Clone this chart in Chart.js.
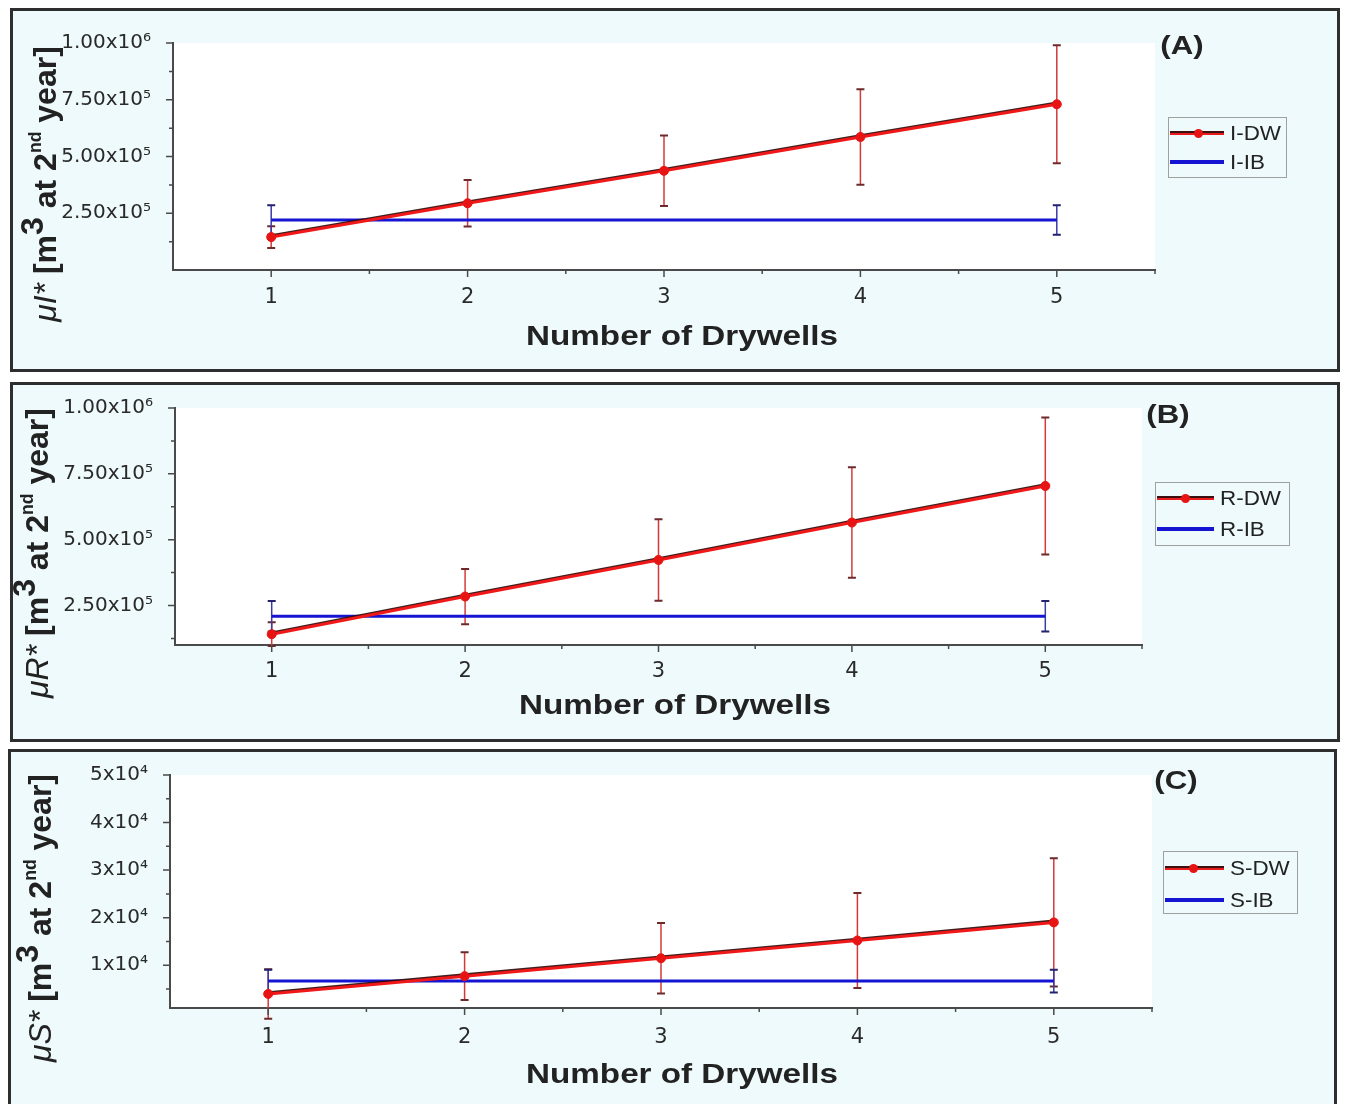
<!DOCTYPE html>
<html><head><meta charset="utf-8">
<script src="https://cdn.jsdelivr.net/npm/chart.js@4.4.1/dist/chart.umd.min.js"></script>
<style>
html,body{margin:0;padding:0;background:#fff;}
body{width:1347px;height:1104px;position:relative;overflow:hidden;font-family:"Liberation Sans",Arial,sans-serif;color:#222;}
.panel{position:absolute;box-sizing:border-box;border:3px solid #2e2e2e;background:#eefafb;}
canvas{position:absolute;left:0;}
.ytitle{position:absolute;white-space:nowrap;transform:translate(-50%,-50%) rotate(-90deg);font-size:32px;line-height:1.15;}
.ytitle .it{font-style:italic;font-weight:normal;}
.ytitle b{font-weight:bold;}
.ytitle .r3{position:relative;top:-0.42em;}
.ytitle .sup{font-size:0.55em;position:relative;top:-0.85em;}
.xtitle{position:absolute;white-space:nowrap;font-weight:bold;font-size:27px;transform:translate(-50%,-50%) scaleX(1.23);}
.plabel{position:absolute;white-space:nowrap;font-weight:bold;font-size:26px;transform:translate(-50%,-50%) scaleX(1.2);}
.legend{position:absolute;box-sizing:border-box;border:1px solid #a0a0a0;}
.lline{position:absolute;height:4px;margin-top:-2px;}
.ldot{position:absolute;width:9px;height:9px;border-radius:50%;background:#e81414;margin:-4.5px 0 0 -4.5px;}
.ltext{position:absolute;white-space:nowrap;font-size:20px;line-height:1;transform:translateY(-50%) scaleX(1.12);transform-origin:left center;}
</style>
</head>
<body>
<div class="panel" style="left:10px;top:8px;width:1330px;height:364px;"></div>
<div class="panel" style="left:10px;top:382px;width:1330px;height:360px;"></div>
<div class="panel" style="left:8px;top:749px;width:1329px;height:365px;"></div>

<canvas id="cA" width="1347" height="364" style="top:8px;"></canvas>
<canvas id="cB" width="1347" height="360" style="top:382px;"></canvas>
<canvas id="cC" width="1347" height="355" style="top:749px;"></canvas>

<div class="ytitle" style="left:45px;top:184px;"><span class="it">&mu;I*</span> <b>[m<span class="r3">3</span> at 2<span class="sup">nd</span> year]</b></div>
<div class="ytitle" style="left:37px;top:553px;"><span class="it">&mu;R*</span> <b>[m<span class="r3">3</span> at 2<span class="sup">nd</span> year]</b></div>
<div class="ytitle" style="left:40px;top:918px;"><span class="it">&mu;S*</span> <b>[m<span class="r3">3</span> at 2<span class="sup">nd</span> year]</b></div>

<div class="xtitle" style="left:682px;top:336px;">Number of Drywells</div>
<div class="xtitle" style="left:675px;top:705px;">Number of Drywells</div>
<div class="xtitle" style="left:682px;top:1074px;">Number of Drywells</div>

<div class="plabel" style="left:1182px;top:45px;">(A)</div>
<div class="plabel" style="left:1168px;top:414px;">(B)</div>
<div class="plabel" style="left:1176px;top:780px;">(C)</div>

<div id="legA" class="legend" style="left:1168px;top:117px;width:119px;height:61px;"></div>
<div id="legB" class="legend" style="left:1155px;top:482px;width:135px;height:64px;"></div>
<div id="legC" class="legend" style="left:1163px;top:851px;width:135px;height:63px;"></div>

<script>
// ---------- data ----------
const drywells = [1, 2, 3, 4, 5];          // x categories for the DW series
const ibX = [1, 5];                        // x extent of the IB series
const xTickValues = [1, 2, 3, 4, 5];
const xTickLabels = ['1', '2', '3', '4', '5'];
const xMinorTicks = [1.5, 2.5, 3.5, 4.5, 5.5];

// Panel A : infiltration
const iDW    = [1.45e5, 2.94e5, 4.37e5, 5.86e5, 7.30e5];
const iDWErr = [4.8e4, 1.02e5, 1.55e5, 2.10e5, 2.60e5];
const iIB    = [2.20e5, 2.20e5];
const iIBErr = [6.5e4, 6.5e4];

// Panel B : recharge
const rDW    = [1.41e5, 2.84e5, 4.23e5, 5.65e5, 7.04e5];
const rDWErr = [4.5e4, 1.05e5, 1.55e5, 2.10e5, 2.60e5];
const rIB    = [2.09e5, 2.09e5];
const rIBErr = [5.8e4, 5.8e4];

// Panel C : storage
const sDW    = [3960, 7700, 11460, 15200, 19000];
const sDWErr = [5200, 5000, 7400, 10000, 13500];
const sIB    = [6670, 6670];
const sIBErr = [2400, 2400];

// y ticks
const abYTicks = [2.5e5, 5e5, 7.5e5, 1e6];
const abYTickLabels = ['2.50x10\u2075', '5.00x10\u2075', '7.50x10\u2075', '1.00x10\u2076'];
const abYMinor = [1.25e5, 3.75e5, 6.25e5, 8.75e5];
const cYTicks = [1e4, 2e4, 3e4, 4e4, 5e4];
const cYTickLabels = ['1x10\u2074', '2x10\u2074', '3x10\u2074', '4x10\u2074', '5x10\u2074'];
const cYMinor = [5000, 15000, 25000, 35000, 45000];

const seriesLabels = {A: ['I-DW', 'I-IB'], B: ['R-DW', 'R-IB'], C: ['S-DW', 'S-IB']};

// ---------- plugin: plot background, error bars, tick marks ----------
const decoPlugin = {
  id: 'deco',
  beforeDraw(chart) {
    const {ctx, chartArea: a} = chart;
    ctx.save();
    ctx.fillStyle = '#ffffff';
    ctx.fillRect(a.left, a.top, a.right - a.left, a.bottom - a.top);
    ctx.restore();
  },
  beforeDatasetsDraw(chart) {
    const {ctx} = chart;
    const xs = chart.scales.x, ys = chart.scales.y;
    ctx.save();
    chart.data.datasets.forEach(ds => {
      if (!ds.errors) return;
      ds.data.forEach((p, i) => {
        const e = ds.errors[i];
        if (e == null) return;
        const px = xs.getPixelForValue(p.x);
        const yT = ys.getPixelForValue(p.y + e);
        const yB = ys.getPixelForValue(p.y - e);
        ctx.strokeStyle = ds.errColor;
        ctx.lineWidth = 1.5;
        ctx.beginPath(); ctx.moveTo(px, yT); ctx.lineTo(px, yB); ctx.stroke();
        ctx.strokeStyle = ds.capColor;
        ctx.lineWidth = 2;
        ctx.beginPath();
        ctx.moveTo(px - 4, yT); ctx.lineTo(px + 4, yT);
        ctx.moveTo(px - 4, yB); ctx.lineTo(px + 4, yB);
        ctx.stroke();
      });
    });
    ctx.restore();
  },
  beforeDatasetDraw(chart, args) {
    // dark edge along the upper side of the DW line (as in the original)
    if (args.index !== 0) return;
    const ctx = chart.ctx;
    const pts = chart.getDatasetMeta(0).data;
    ctx.save();
    ctx.strokeStyle = 'rgba(45,5,5,0.9)';
    ctx.lineWidth = 3;
    ctx.lineJoin = 'round';
    ctx.beginPath();
    pts.forEach((pt, i) => { if (i === 0) ctx.moveTo(pt.x, pt.y - 1.3); else ctx.lineTo(pt.x, pt.y - 1.3); });
    ctx.stroke();
    ctx.restore();
  },
  afterDraw(chart) {
    const {ctx, chartArea: a} = chart;
    const xs = chart.scales.x, ys = chart.scales.y;
    const o = chart.options.plugins.deco;
    ctx.save();
    ctx.strokeStyle = '#4a4a4a';
    ctx.lineWidth = 1.5;
    ctx.beginPath();
    xTickValues.forEach(v => { const p = xs.getPixelForValue(v); ctx.moveTo(p, a.bottom); ctx.lineTo(p, a.bottom + 7); });
    xMinorTicks.forEach(v => { const p = xs.getPixelForValue(v); ctx.moveTo(p, a.bottom); ctx.lineTo(p, a.bottom + 4); });
    o.yTicks.forEach(v => { const p = ys.getPixelForValue(v); ctx.moveTo(a.left, p); ctx.lineTo(a.left - 7, p); });
    o.yMinor.forEach(v => { const p = ys.getPixelForValue(v); ctx.moveTo(a.left, p); ctx.lineTo(a.left - 4, p); });
    ctx.stroke();
    ctx.restore();
  }
};

function makeChart(id, cfg) {
  return new Chart(document.getElementById(id), {
    type: 'line',
    data: {
      datasets: [
        {
          label: cfg.labels[0],
          data: drywells.map((x, i) => ({x: x, y: cfg.dw[i]})),
          errors: cfg.dwErr, errColor: '#d23a3a', capColor: '#6e2a2a',
          borderColor: '#f01818', borderWidth: 3, tension: 0,
          pointRadius: 4.5, pointBackgroundColor: '#e81414', pointBorderColor: '#e81414', pointBorderWidth: 1
        },
        {
          label: cfg.labels[1],
          data: ibX.map((x, i) => ({x: x, y: cfg.ib[i]})),
          errors: cfg.ibErr, errColor: '#3a3aa8', capColor: '#22226e',
          borderColor: '#1414d2', borderWidth: 3, tension: 0, pointRadius: 0
        }
      ]
    },
    options: {
      responsive: false,
      animation: false,
      events: [],
      layout: {padding: {left: 0, top: cfg.padTop, right: cfg.padRight, bottom: 0}},
      plugins: {
        legend: {display: false},
        tooltip: {enabled: false},
        deco: {yTicks: cfg.yTicks, yMinor: cfg.yMinor}
      },
      scales: {
        x: {
          type: 'linear', min: 0.5, max: 5.5,
          afterBuildTicks: s => { s.ticks = xTickValues.map(v => ({value: v})); },
          afterFit: s => { s.height = cfg.xAxisH; },
          ticks: {
            autoSkip: false, maxRotation: 0, padding: cfg.xPad, color: '#2a2a2a',
            font: {family: 'DejaVu Sans', size: 21},
            callback: v => { const i = xTickValues.indexOf(v); return i >= 0 ? xTickLabels[i] : ''; }
          },
          grid: {display: false},
          border: {display: true, color: '#4a4a4a', width: 2}
        },
        y: {
          type: 'linear', min: cfg.yMin, max: cfg.yMax,
          afterBuildTicks: s => { s.ticks = cfg.yTicks.map(v => ({value: v})); },
          afterFit: s => { s.width = cfg.yAxisW; },
          ticks: {
            padding: 14, color: '#2a2a2a',
            font: {family: 'DejaVu Sans', size: 20},
            callback: v => { const i = cfg.yTicks.indexOf(v); return i >= 0 ? cfg.yTickLabels[i] : ''; }
          },
          grid: {display: false},
          border: {display: true, color: '#4a4a4a', width: 2}
        }
      }
    },
    plugins: [decoPlugin]
  });
}

makeChart('cA', {labels: seriesLabels.A, dw: iDW, dwErr: iDWErr, ib: iIB, ibErr: iIBErr,
  yMin: 0, yMax: 1e6, yTicks: abYTicks, yTickLabels: abYTickLabels, yMinor: abYMinor,
  padTop: 35, padRight: 192, xAxisH: 102, yAxisW: 173, xPad: 7});
makeChart('cB', {labels: seriesLabels.B, dw: rDW, dwErr: rDWErr, ib: rIB, ibErr: rIBErr,
  yMin: 1e5, yMax: 1e6, yTicks: abYTicks, yTickLabels: abYTickLabels, yMinor: abYMinor,
  padTop: 21, padRight: 205, xAxisH: 97, yAxisW: 175, xPad: 6});
makeChart('cC', {labels: seriesLabels.C, dw: sDW, dwErr: sDWErr, ib: sIB, ibErr: sIBErr,
  yMin: 1000, yMax: 5e4, yTicks: cYTicks, yTickLabels: cYTickLabels, yMinor: cYMinor,
  padTop: 25, padRight: 195, xAxisH: 96, yAxisW: 170, xPad: 9});

// ---------- HTML legends ----------
function buildLegend(id, labels, geo) {
  const el = document.getElementById(id);
  const kinds = ['dw', 'ib'];
  labels.forEach((lab, k) => {
    const y = geo.rows[k];
    const line = document.createElement('div');
    line.className = 'lline';
    line.style.left = geo.lineL + 'px';
    line.style.width = geo.lineW + 'px';
    line.style.top = y + 'px';
    line.style.background = kinds[k] === 'dw'
      ? 'linear-gradient(#3a1010 0 40%, #e81c1c 40% 100%)'
      : '#1414d2';
    el.appendChild(line);
    if (kinds[k] === 'dw') {
      const dot = document.createElement('div');
      dot.className = 'ldot';
      dot.style.left = geo.dotX + 'px';
      dot.style.top = y + 'px';
      el.appendChild(dot);
    }
    const t = document.createElement('div');
    t.className = 'ltext';
    t.textContent = lab;
    t.style.left = geo.textL + 'px';
    t.style.top = y + 'px';
    el.appendChild(t);
  });
}
buildLegend('legA', seriesLabels.A, {rows: [15, 44], lineL: 1, lineW: 54, dotX: 29, textL: 61});
buildLegend('legB', seriesLabels.B, {rows: [15, 46], lineL: 1, lineW: 57, dotX: 29, textL: 64});
buildLegend('legC', seriesLabels.C, {rows: [16, 48], lineL: 1, lineW: 59, dotX: 29, textL: 66});
</script>
</body></html>
